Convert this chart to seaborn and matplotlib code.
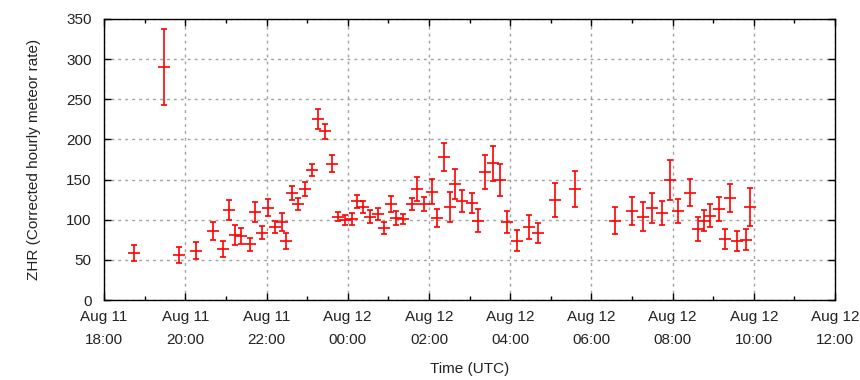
import numpy as np
import pandas as pd
import matplotlib
matplotlib.use("Agg")
import matplotlib.pyplot as plt
import matplotlib.dates as mdates
import seaborn as sns

times = ["2023-08-11 18:44", "2023-08-11 19:28", "2023-08-11 19:51", "2023-08-11 20:16",
         "2023-08-11 20:41", "2023-08-11 20:56", "2023-08-11 21:05", "2023-08-11 21:13",
         "2023-08-11 21:23", "2023-08-11 21:36", "2023-08-11 21:43", "2023-08-11 21:54",
         "2023-08-11 22:02", "2023-08-11 22:13", "2023-08-11 22:23", "2023-08-11 22:29",
         "2023-08-11 22:38", "2023-08-11 22:47", "2023-08-11 22:57", "2023-08-11 23:07",
         "2023-08-11 23:16", "2023-08-11 23:27", "2023-08-11 23:37", "2023-08-11 23:46",
         "2023-08-11 23:56", "2023-08-12 00:07", "2023-08-12 00:14", "2023-08-12 00:23",
         "2023-08-12 00:33", "2023-08-12 00:45", "2023-08-12 00:54", "2023-08-12 01:04",
         "2023-08-12 01:11", "2023-08-12 01:22", "2023-08-12 01:35", "2023-08-12 01:43",
         "2023-08-12 01:52", "2023-08-12 02:05", "2023-08-12 02:12", "2023-08-12 02:22",
         "2023-08-12 02:31", "2023-08-12 02:38", "2023-08-12 02:49", "2023-08-12 03:04",
         "2023-08-12 03:13", "2023-08-12 03:23", "2023-08-12 03:35", "2023-08-12 03:45",
         "2023-08-12 03:55", "2023-08-12 04:10", "2023-08-12 04:28", "2023-08-12 04:41",
         "2023-08-12 05:06", "2023-08-12 05:36", "2023-08-12 06:35", "2023-08-12 07:00",
         "2023-08-12 07:16", "2023-08-12 07:29", "2023-08-12 07:44", "2023-08-12 07:56",
         "2023-08-12 08:08", "2023-08-12 08:26", "2023-08-12 08:37", "2023-08-12 08:46",
         "2023-08-12 08:55", "2023-08-12 09:08", "2023-08-12 09:17", "2023-08-12 09:25",
         "2023-08-12 09:35", "2023-08-12 09:48", "2023-08-12 09:54"]

zhr = [58.7, 290, 56.2, 61.6, 86, 63.7, 112.2, 81, 79.8, 69.4, 109.7, 83.6,
       114.7, 91, 97.3, 73.6, 133.3, 119.6, 138.3, 162, 225.4, 210.4, 169.8, 103.5,
       99.8, 101, 122.9, 115.9, 103.5, 107.2, 89.8, 119.6, 102.2, 101, 119.6, 138.3,
       119.6, 134.6, 102.2, 178.1, 115.9, 144.5, 123.4, 120.9, 98.5, 159.5, 170.6, 149.5,
       97.3, 73.6, 91, 83.6, 124.6, 138.3, 98.5, 111, 103.5, 114.7, 108.5, 149.5,
       111, 133.3, 88.6, 98.5, 104.7, 113.4, 76.1, 127.1, 73.6, 74.9, 115.9]

err = [10, 47, 10, 11, 11, 10, 12.5, 12.5, 10, 8, 12, 8,
       10.5, 7.5, 11, 10, 9.3, 8, 8.7, 7.5, 12, 9.3, 10.5, 5.6,
       6.2, 7.5, 8, 7, 8, 8, 7, 10, 9, 6.2, 8, 15,
       9.3, 15.5, 11, 18, 18.6, 19, 13.7, 13, 14.3, 21.7, 21.8, 20,
       13.7, 13, 15, 12, 21, 23, 16.8, 17.5, 18, 19, 15, 25,
       15, 16.8, 15, 13, 14.3, 15, 12.5, 17.4, 12, 13, 23.6]

df = pd.DataFrame({"time": pd.to_datetime(times), "zhr": zhr, "err": err})

sns.set_theme(style="white")
plt.rcParams['font.family'] = ['Liberation Sans', 'DejaVu Sans']

fig = plt.figure(figsize=(8.6, 3.8), dpi=100)
ax = fig.add_axes([0.121, 0.2105, 0.850, 0.7395])

red = "#ff0000"
ax.errorbar(df["time"], df["zhr"], yerr=df["err"], fmt="none", ecolor=red,
            elinewidth=1.2, capsize=2.3, capthick=1.2, zorder=3)
sns.scatterplot(data=df, x="time", y="zhr", marker="_", s=80, color=red,
                linewidth=1.2, ax=ax, zorder=4, legend=False)

ax.set_xlim(pd.Timestamp("2023-08-11 18:00"), pd.Timestamp("2023-08-12 12:00"))
ax.set_ylim(0, 350)
ax.set_yticks(np.arange(0, 351, 50))
ax.xaxis.set_major_locator(mdates.HourLocator(byhour=range(0, 24, 2)))
ax.xaxis.set_minor_locator(mdates.HourLocator(byhour=range(1, 24, 2)))
ax.xaxis.set_major_formatter(mdates.DateFormatter("%b %d\n%H:%M"))

ax.grid(True, which="major", color="#a0a0a0", linestyle=(0, (2, 3)), linewidth=1)
for s in ax.spines.values():
    s.set_visible(True)
    s.set_color("black")
    s.set_linewidth(1)
ax.tick_params(which="both", direction="in", top=True, right=True,
               bottom=True, left=True, colors="black", labelsize=11,
               labelcolor="#222222")
ax.tick_params(which="major", length=5, width=1)
ax.tick_params(which="minor", length=3, width=1)
ax.tick_params(axis="x", which="major", pad=7)
ax.tick_params(axis="y", which="major", pad=9)
for lbl in ax.get_xticklabels():
    lbl.set_linespacing(1.8)

ax.set_xlabel("Time (UTC)", fontsize=11, labelpad=11, color="#222222")
ax.set_ylabel("ZHR (Corrected hourly meteor rate)", fontsize=11, labelpad=18,
              color="#222222")

fig.savefig("out.png", dpi=100)
